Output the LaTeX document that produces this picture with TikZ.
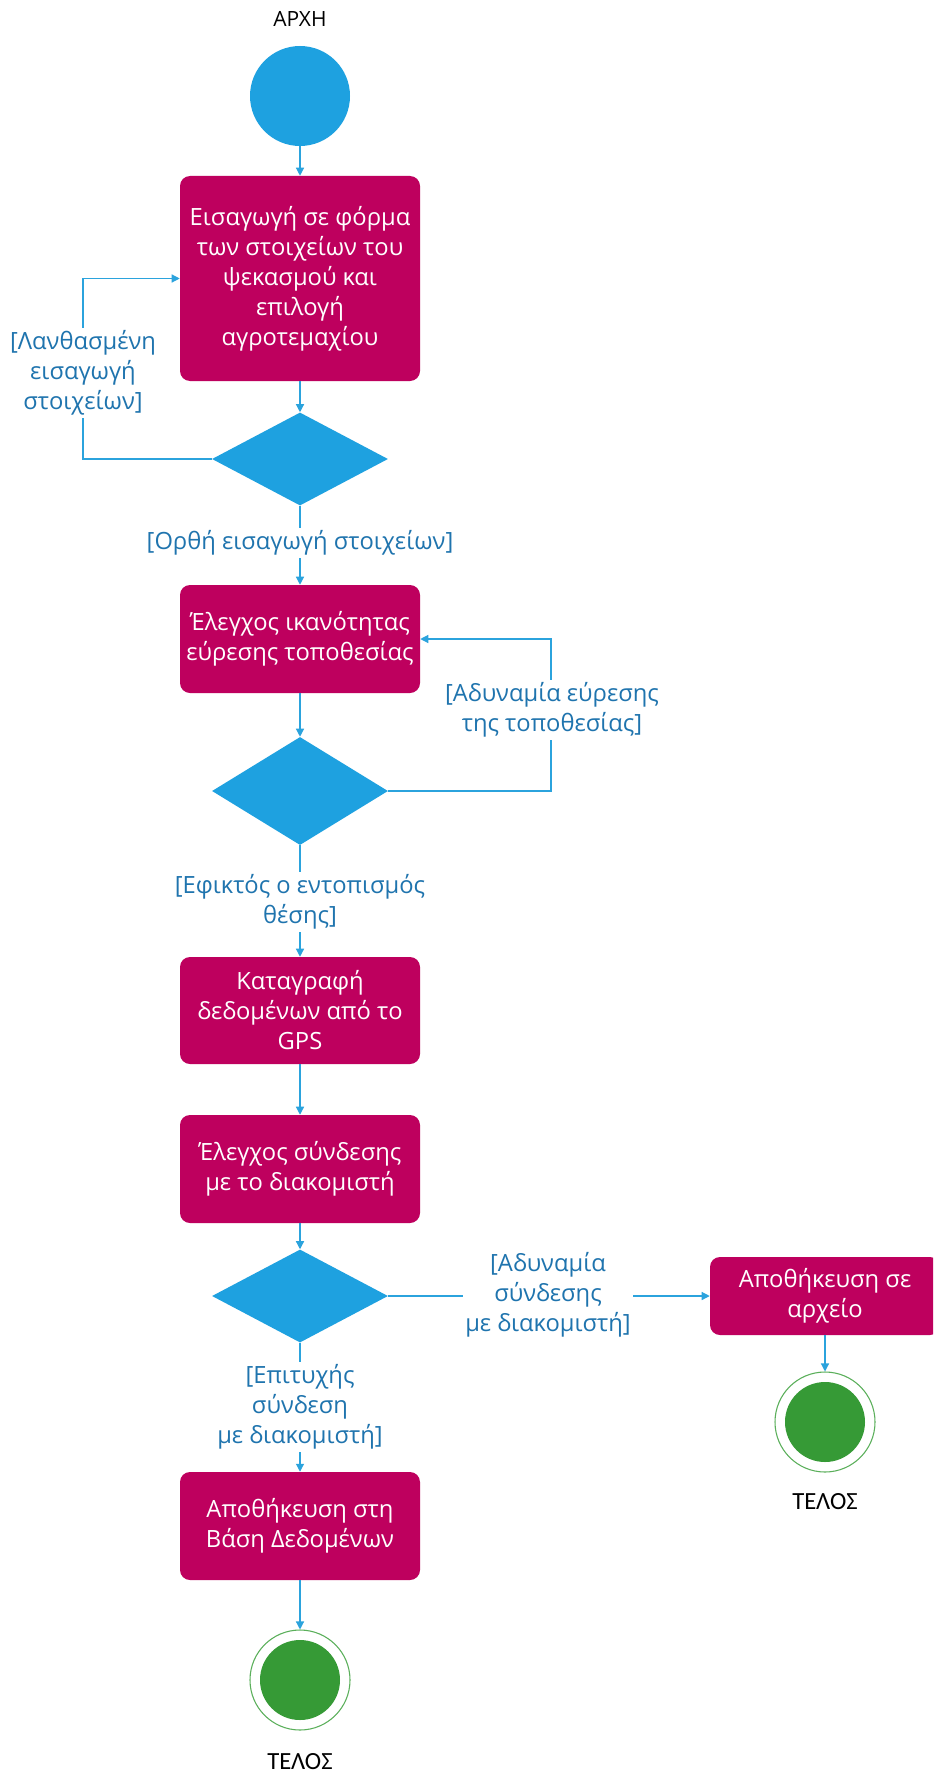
\documentclass[tikz,border=0pt]{standalone}
\usepackage{fontspec}
\setmainfont{Open Sans}
\newfontfamily\endfont{Carlito}
\usetikzlibrary{shapes.geometric,arrows.meta}

\definecolor{act}{HTML}{BE005E}
\definecolor{flow}{HTML}{1EA1E0}
\definecolor{wire}{HTML}{2BA3DD}
\definecolor{guard}{HTML}{1F74AE}
\definecolor{done}{HTML}{369A36}
\definecolor{donering}{HTML}{5AAF5A}

\tikzset{
  action/.style={rectangle, rounded corners=7.5pt, fill=act, text=white,
    minimum width=180pt, align=center, inner sep=0pt,
    font=\fontsize{17.8}{22.5}\selectfont},
  choice/.style={diamond, fill=flow, minimum width=132pt, inner sep=0pt},
  guardtext/.style={fill=white, text=guard, align=center, inner sep=2pt,
    font=\fontsize{17.8}{22.5}\selectfont},
  flowline/.style={draw=wire, line width=0.9pt, -{Triangle[length=6pt,width=6pt]}},
  startdot/.style={circle, fill=flow, minimum size=75pt, inner sep=0pt},
  enddot/.style={circle, draw=donering, line width=0.8pt, minimum size=75pt, inner sep=0pt,
    path picture={\fill[done] (path picture bounding box.center) circle (30pt);}},
  caption/.style={text=black, font=\fontsize{15.75}{18}\selectfont},
  endcaption/.style={text=black, font=\endfont\fontsize{18.5}{22}\selectfont},
}

\begin{document}
\begin{tikzpicture}[x=0.75pt, y=-0.75pt]
  \useasboundingbox (0,0) rectangle (933,1773);
  \clip (0,0) rectangle (933,1773);
  \fill[white] (0,0) rectangle (933,1773);

  % states and actions
  \node[caption] (startlabel) at (300,19) {ΑΡΧΗ};
  \node[startdot] (start) at (300,96) {};
  \node[action, minimum height=153.75pt] (a1) at (300,278.5)
    {Εισαγωγή σε φόρμα\\των στοιχείων του\\ψεκασμού και\\επιλογή\\αγροτεμαχίου};
  \node[choice, minimum height=69.75pt] (d1) at (300,459) {};
  \node[action, minimum height=81pt] (a2) at (300,639)
    {Έλεγχος ικανότητας\\εύρεσης τοποθεσίας};
  \node[choice, minimum height=81pt] (d2) at (300,791) {};
  \node[action, minimum height=80.25pt] (a3) at (300,1010.5)
    {Καταγραφή\\δεδομένων από το\\GPS};
  \node[action, minimum height=81pt] (a4) at (300,1169)
    {Έλεγχος σύνδεσης\\με το διακομιστή};
  \node[choice, minimum height=69.75pt] (d3) at (300,1296) {};
  \node[action, minimum width=172.5pt, minimum height=58.5pt] (a5) at (825,1296)
    {Αποθήκευση σε\\αρχείο};
  \node[enddot] (end2) at (825,1422) {};
  \node[endcaption] (endlabel2) at (825,1502) {ΤΕΛΟΣ};
  \node[action, minimum height=81pt] (a6) at (300,1526)
    {Αποθήκευση στη\\Βάση Δεδομένων};
  \node[enddot] (end1) at (300,1680) {};
  \node[endcaption] (endlabel1) at (300,1762) {ΤΕΛΟΣ};

  % loop corners
  \coordinate (loopL) at (83,459);
  \coordinate (loopR) at (551,791);

  % connectors
  \draw[flowline] (start) -- (a1);
  \draw[flowline] (a1) -- (d1);
  \draw[flowline] (d1.west) -- (loopL) |- (a1.west);
  \draw[flowline] (d1) -- (a2);
  \draw[flowline] (a2) -- (d2);
  \draw[flowline] (d2.east) -- (loopR) |- (a2.east);
  \draw[flowline] (d2) -- (a3);
  \draw[flowline] (a3) -- (a4);
  \draw[flowline] (a4) -- (d3);
  \draw[flowline] (d3) -- (a5);
  \draw[flowline] (a5) -- (end2);
  \draw[flowline] (d3) -- (a6);
  \draw[flowline] (a6) -- (end1);

  % guard labels on top of the lines
  \node[guardtext] (g1) at (83,373) {[Λανθασμένη\\εισαγωγή\\στοιχείων]};
  \node[guardtext] (g2) at (300,543) {[Ορθή εισαγωγή στοιχείων]};
  \node[guardtext] (g3) at (552,710) {[Αδυναμία εύρεσης\\της τοποθεσίας]};
  \node[guardtext] (g4) at (300,902) {[Εφικτός ο εντοπισμός\\θέσης]};
  \node[guardtext] (g5) at (548,1295) {[Αδυναμία\\σύνδεσης\\με διακομιστή]};
  \node[guardtext] (g6) at (300,1407) {[Επιτυχής\\σύνδεση\\με διακομιστή]};
\end{tikzpicture}
\end{document}
